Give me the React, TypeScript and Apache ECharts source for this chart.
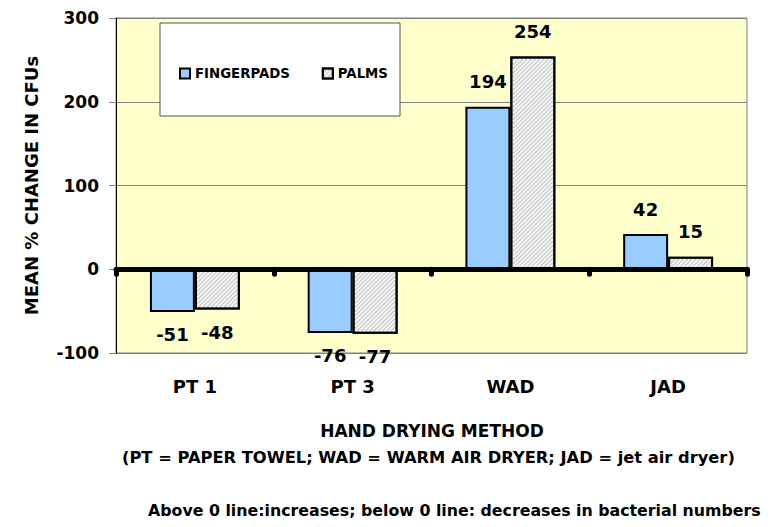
import React, { useEffect, useRef } from "react";
import * as echarts from "echarts";

const categories = ["PT 1", "PT 3", "WAD", "JAD"];
const fingerpads = [-51, -76, 194, 42];
const palms = [-48, -77, 254, 15];
const seriesNames = ["FINGERPADS", "PALMS"];
const yTicks = { min: -100, max: 300, interval: 100 };
const yTitle = "MEAN % CHANGE IN CFUs";
const xTitle = "HAND DRYING METHOD";
const xSubtitle = "(PT = PAPER TOWEL; WAD = WARM AIR DRYER; JAD = jet air dryer)";
const footer = "Above 0 line:increases; below 0 line: decreases in bacterial numbers";

const FONT = "'DejaVu Sans', Arial, sans-serif";

export default function App() {
  const ref = useRef<HTMLDivElement>(null);
  useEffect(() => {
    if (!ref.current) return;
    const chart = echarts.init(ref.current, null, { renderer: "svg" });
    const labelStyle = {
      show: true,
      fontFamily: FONT,
      fontWeight: "bold",
      fontSize: 18,
      color: "#000",
    };
    const mkLabel = (v: number) => ({
      value: v,
      label: { position: v >= 0 ? "top" : "bottom", distance: v >= 0 ? 16 : 14 },
    });
    chart.setOption({
      animation: false,
      backgroundColor: "#fff",
      textStyle: { fontFamily: FONT },
      grid: {
        left: 116,
        right: 31,
        top: 18,
        bottom: 174,
        show: true,
        backgroundColor: "#FFFFCC",
        borderColor: "#808080",
        borderWidth: 1,
      },
      legend: {
        data: seriesNames.map((n) => ({ name: n, icon: "rect" })),
        left: 174,
        top: 62,
        itemWidth: 10,
        itemHeight: 10,
        itemGap: 32,
        itemStyle: { borderColor: "#000", borderWidth: 2 },
        textStyle: { fontFamily: FONT, fontWeight: "bold", fontSize: 13.3, color: "#000" },
        z: 10,
      },
      graphic: [
        {
          type: "rect",
          z: 5,
          shape: { x: 160, y: 23, width: 240, height: 93 },
          style: { fill: "#fff", stroke: "#555", lineWidth: 1 },
        },
        {
          type: "text",
          x: 432,
          y: 422,
          style: { text: xTitle, font: `bold 17px ${FONT}`, fill: "#000", align: "center", verticalAlign: "top" },
        },
        {
          type: "text",
          left: 122,
          top: 449,
          style: { text: xSubtitle, font: `bold 16.3px ${FONT}`, fill: "#000" },
        },
        {
          type: "text",
          left: 148,
          top: 502,
          style: { text: footer, font: `bold 15.8px ${FONT}`, fill: "#000" },
        },
      ],
      xAxis: [
        {
          type: "category",
          data: categories,
          position: "bottom",
          axisLine: { onZero: false, show: false },
          axisTick: { show: false },
          axisLabel: { fontFamily: FONT, fontWeight: "bold", fontSize: 18, color: "#000", margin: 24 },
        },
        {
          type: "category",
          data: categories,
          position: "bottom",
          z: 5,
          axisLine: { onZero: true, show: true, lineStyle: { color: "#000", width: 5, cap: "round" } },
          axisTick: { show: true, inside: false, length: 5, interval: 0, lineStyle: { color: "#000", width: 5, cap: "round" } },
          axisLabel: { show: false },
        },
      ],
      yAxis: {
        type: "value",
        min: yTicks.min,
        max: yTicks.max,
        interval: yTicks.interval,
        name: yTitle,
        nameLocation: "middle",
        nameGap: 76,
        nameTextStyle: { fontFamily: FONT, fontWeight: "bold", fontSize: 18, color: "#000" },
        axisLine: { show: true, lineStyle: { color: "#000", width: 1 } },
        axisTick: { show: true, length: 7, lineStyle: { color: "#808080" } },
        splitLine: { show: true, lineStyle: { color: "#808080", width: 1 } },
        axisLabel: { fontFamily: FONT, fontWeight: "bold", fontSize: 17, color: "#000", margin: 17 },
      },
      series: [
        {
          name: seriesNames[0],
          type: "bar",
          xAxisIndex: 0,
          data: fingerpads.map(mkLabel),
          barGap: "0%",
          barCategoryGap: "43%",
          itemStyle: { color: "#99CCFF", borderColor: "#000", borderWidth: 2 },
          label: labelStyle,
        },
        {
          name: seriesNames[1],
          type: "bar",
          xAxisIndex: 0,
          data: palms.map(mkLabel),
          barGap: "0%",
          barCategoryGap: "43%",
          itemStyle: {
            color: "#f4f4f4",
            borderColor: "#000",
            borderWidth: 2,
            decal: {
              symbol: "rect",
              symbolSize: 1,
              dashArrayX: [1, 0],
              dashArrayY: [1, 2],
              rotation: -Math.PI / 4,
              color: "#c4c4c4",
            },
          },
          label: labelStyle,
        },
      ],
    });
    return () => chart.dispose();
  }, []);
  return (
    <div
      ref={ref}
      style={{ position: "fixed", left: 0, top: 0, width: 778, height: 527 }}
    />
  );
}
